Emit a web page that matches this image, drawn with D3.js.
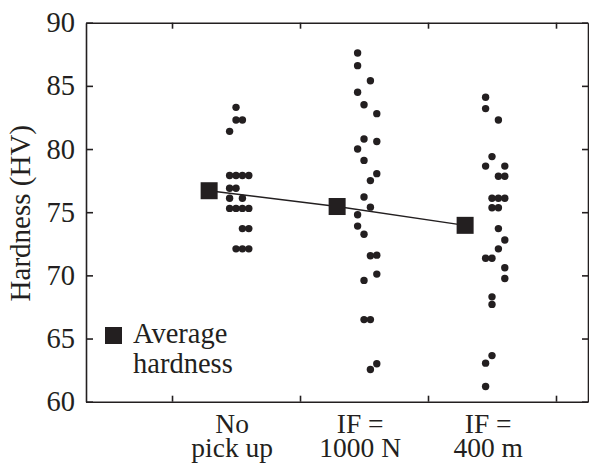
<!DOCTYPE html>
<html>
<head>
<meta charset="utf-8">
<script src="https://cdn.jsdelivr.net/npm/d3@7"></script>
<style>
  body { margin: 0; background: #fff; }
  svg { display: block; font-family: "Liberation Serif", "Times New Roman", serif; }
</style>
</head>
<body>
<svg width="589" height="464"></svg>
<script>
// categories and their two-line labels
const categories = ["No pick up", "IF = 1000 N", "IF = 400 m"];
const labelLines = [["No", "pick up"], ["IF =", "1000 N"], ["IF =", "400 m"]];

// average hardness per category
const averages = [76.7, 75.45, 73.96];

// individual measurements (HV) and their column slot in the dot strip
const noPickUp      = [83.3, 82.3, 82.3, 81.4, 77.9, 77.9, 77.9, 77.9, 76.9, 76.9, 76.1, 76.1,
                       75.3, 75.3, 75.3, 75.3, 73.7, 73.7, 72.1, 72.1, 72.1];
const noPickUpSlot  = [1, 1, 2, 0, 0, 1, 2, 3, 0, 1, 0, 2,
                       0, 1, 2, 3, 2, 3, 1, 2, 3];

const if1000N       = [87.6, 86.6, 85.4, 84.5, 83.5, 82.8, 80.8, 80.6, 80.0, 79.1, 78.05, 77.5,
                       76.2, 75.4, 74.8, 73.9, 73.25, 71.55, 71.6, 70.1, 69.6, 66.5, 66.5, 63.0, 62.55];
const if1000NSlot   = [0, 0, 2, 0, 1, 3, 1, 3, 0, 1, 3, 2,
                       1, 2, 0, 0, 1, 2, 3, 3, 1, 1, 2, 3, 2];

const if400m        = [84.1, 83.2, 82.3, 79.4, 78.65, 78.65, 77.85, 77.85, 76.1, 76.1, 76.1, 75.35,
                       75.35, 73.7, 72.8, 72.1, 71.35, 71.35, 70.6, 69.75, 68.3, 67.7, 63.65, 63.05, 61.2];
const if400mSlot    = [0, 0, 2, 1, 0, 3, 2, 3, 1, 2, 3, 1,
                       2, 2, 3, 2, 0, 1, 3, 3, 1, 1, 1, 0, 0];

const yTicks = [60, 65, 70, 75, 80, 85, 90];
const xTicks = [-0.5, 0.5, 1.5, 2.5];
const legendLines = ["Average", "hardness"];

const ink = "#231f20";

const drawGraph = () => {
    const svg = d3.select("svg");

    const attr_area = {
        width: 589,
        height: 464,
        left: 86,
        right: 588,
        top: 22.7,
        bottom: 401.7
    };

    const scaleX = d3.scaleLinear()
                     .domain([-1.172, 2.75])
                     .range([attr_area.left, attr_area.right]);

    const scaleY = d3.scaleLinear()
                     .domain([60, 90])
                     .range([attr_area.bottom, attr_area.top]);

    createAxis(svg, scaleX, scaleY, attr_area);
    createChart(svg, scaleX, scaleY);
    createLegend(svg);
};

const createAxis = (svg, scaleX, scaleY, attr_area) => {
    const styleAxis = g => {
        g.select(".domain").attr("stroke", ink).attr("stroke-width", 1.6);
        g.selectAll(".tick line").attr("stroke", ink).attr("stroke-width", 1.6);
        g.selectAll(".tick text")
         .attr("fill", ink)
         .style("font-family", "Liberation Serif")
         .style("font-size", "28.5px");
    };

    svg.append("g")
       .attr("transform", `translate(${attr_area.left},0)`)
       .call(d3.axisLeft(scaleY).tickValues(yTicks).tickSizeInner(-7).tickSizeOuter(0).tickPadding(11))
       .call(styleAxis);

    svg.append("g")
       .attr("transform", `translate(${attr_area.right},0)`)
       .call(d3.axisRight(scaleY).tickValues(yTicks).tickSizeInner(-6).tickSizeOuter(0).tickFormat(""))
       .call(styleAxis);

    svg.append("g")
       .attr("transform", `translate(0,${attr_area.bottom})`)
       .call(d3.axisBottom(scaleX).tickValues(xTicks).tickSizeInner(-6).tickSizeOuter(0).tickFormat(""))
       .call(styleAxis);

    svg.append("g")
       .attr("transform", `translate(0,${attr_area.top})`)
       .call(d3.axisTop(scaleX).tickValues(xTicks).tickSizeInner(-6).tickSizeOuter(0).tickFormat(""))
       .call(styleAxis);

    // two-line category labels under the axis
    const labels = svg.append("g")
        .selectAll("text")
        .data(labelLines)
        .enter()
        .append("text")
        .attr("text-anchor", "middle")
        .attr("fill", ink)
        .style("font-size", "27.5px");

    labels.each(function(lines, i) {
        d3.select(this).selectAll("tspan")
          .data(lines)
          .enter()
          .append("tspan")
          .attr("x", scaleX(i - 0.03))
          .attr("y", (d, j) => 433 + j * 24)
          .text(d => d);
    });

    svg.append("text")
       .attr("transform", `translate(30,${(attr_area.top + attr_area.bottom) / 2 + 1}) rotate(-90)`)
       .attr("text-anchor", "middle")
       .attr("fill", ink)
       .style("font-size", "29px")
       .text("Hardness (HV)");
};

const createChart = (svg, scaleX, scaleY) => {
    const groups = [
        {values: noPickUp, slots: noPickUpSlot},
        {values: if1000N, slots: if1000NSlot},
        {values: if400m, slots: if400mSlot}
    ];

    const points = [];
    groups.forEach((g, i) => {
        g.values.forEach((v, k) => points.push({cat: i, value: v, slot: g.slots[k]}));
    });

    svg.selectAll(".dot")
       .data(points)
       .enter()
       .append("circle")
       .attr("class", "dot")
       .attr("r", 3.7)
       .attr("cx", d => scaleX(d.cat + 0.025 + (d.slot - 1.5) * 0.05))
       .attr("cy", d => scaleY(d.value))
       .style("fill", ink);

    const avgData = averages.map((v, i) => ({cat: i, value: v}));

    const line = d3.line()
                   .x(d => scaleX(d.cat - 0.21))
                   .y(d => scaleY(d.value));

    svg.append("path")
       .datum(avgData)
       .attr("d", line)
       .attr("fill", "none")
       .attr("stroke", ink)
       .attr("stroke-width", 1.4);

    const size = 17;
    svg.selectAll(".avg")
       .data(avgData)
       .enter()
       .append("rect")
       .attr("class", "avg")
       .attr("x", d => scaleX(d.cat - 0.21) - size / 2)
       .attr("y", d => scaleY(d.value) - size / 2)
       .attr("width", size)
       .attr("height", size)
       .style("fill", ink);
};

const createLegend = (svg) => {
    svg.append("rect")
       .attr("x", 105)
       .attr("y", 327)
       .attr("width", 17)
       .attr("height", 17)
       .style("fill", ink);

    svg.append("g")
       .selectAll("text")
       .data(legendLines)
       .enter()
       .append("text")
       .attr("x", 133)
       .attr("y", (d, i) => 343 + i * 30)
       .attr("fill", ink)
       .style("font-size", "28.5px")
       .text(d => d);
};

drawGraph();
</script>
</body>
</html>
